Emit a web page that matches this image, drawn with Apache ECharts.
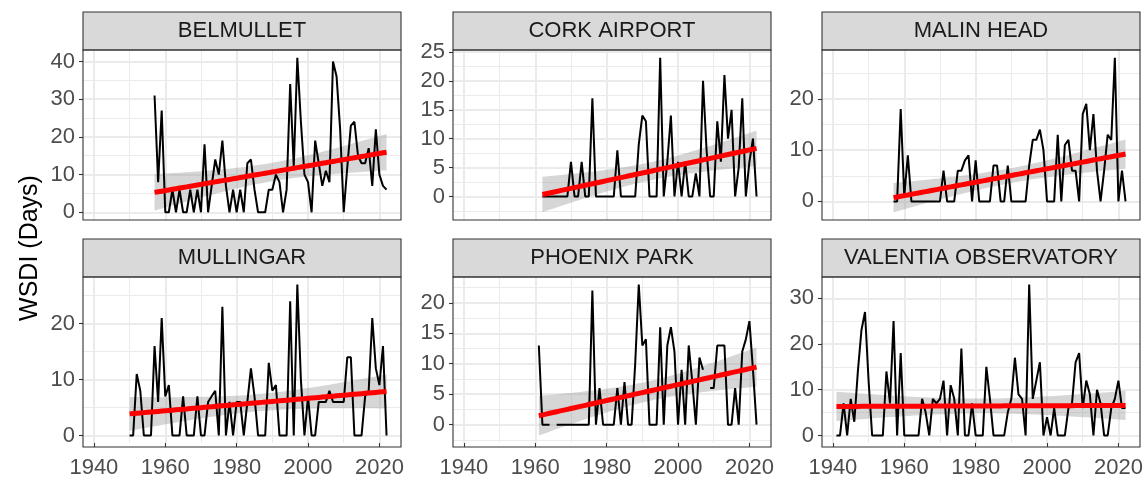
<!DOCTYPE html>
<html>
<head>
<meta charset="utf-8">
<script src="https://cdn.jsdelivr.net/npm/echarts@6/dist/echarts.min.js"></script>
<style>
  html, body { margin: 0; padding: 0; background: #fff; }
  #chart { width: 1146px; height: 479px; }
</style>
</head>
<body>
<div id="chart"></div>
<script>
// facet titles, first year of each record
const stations = ["BELMULLET", "CORK AIRPORT", "MALIN HEAD", "MULLINGAR", "PHOENIX PARK", "VALENTIA OBSERVATORY"];
const startYears = [1957, 1962, 1957, 1950, 1961, 1941];

// annual WSDI (days), one value per year from startYear; null = missing year
const belmullet = [31, 8, 27,
  0, 0, 6, 0, 6, 0, 0, 6, 0, 6,
  0, 18, 0, 7, 14, 10, 19, 7, 0, 6,
  0, 6, 0, 13, 14, 6, 0, 0, 0, 6,
  6, 10, 8, 0, 6, 34, 12, 41, 24, 10,
  8, 0, 19, 13, 7, 11, 8, 40, 36, 22,
  0, 12, 23, 24, 15, 13, 13, 17, 7, 22,
  10, 7, 6];
const cork = [0, 0, 0, 0, 0, 0, 0, 0,
  6, 0, 0, 6, 0, 0, 17, 0, 0, 0,
  0, 0, 0, 8, 0, 0, 0, 0, 0, 9,
  14, 13, 0, 0, 0, 24, 0, 6, 14, 0,
  6, 0, 6, 0, 0, 4, 0, 20, 8, 0,
  0, 13, 6, 21, 10, 15, 0, 5, 17, 0,
  6, 10, 0];
const malin = [0, 0, 18,
  1, 9, 0, 0, 0, 0, 0, 0, 0, 0,
  0, 6, 0, 0, 0, 6, 6, 8, 9, 0,
  8, 0, 0, 0, 0, 7, 7, 0, 0, 7,
  0, 0, 0, 0, 0, 7, 12, 12, 14, 10,
  0, 0, 0, 13, 0, 11, 12, 6, 6, 0,
  17, 19, 10, 17, 6, 0, 6, 13, 12, 28,
  0, 6, 0];
const mullingar = [0, 0, 11, 8, 0, 0, 0, 16, 6, 21,
  7, 9, 0, 0, 0, 7, 0, 0, 0, 7,
  0, 0, 6, 7, 8, 0, 23, 0, 6, 0,
  6, 6, 0, 6, 12, 7, 0, 0, 0, 13,
  8, 9, 0, 0, 0, 24, 0, 27, 10, 0,
  7, 0, 0, 6, 6, 6, 8, 6, 6, 6,
  6, 14, 14, 0, 0, 0, 7, 8, 21, 12,
  9, 16, 0];
const phoenix = [13, 0, 0, 0, null, 0, 0, 0, 0,
  0, 0, 0, 0, 0, 0, 22, 0, 6, 0,
  0, 0, 0, 6, 0, 7, 0, 0, 10, 23,
  13, 14, 0, 0, 0, 16, 0, 13, 16, 12,
  0, 9, 0, 13, 7, 0, 11, 9, null, 6,
  6, 13, 13, 13, 0, 0, 6, 0, 12, 14,
  17, 9, 0];
const valentia = [0, 0, 7, 0, 8, 3, 14, 23, 27,
  12, 0, 0, 0, 0, 14, 7, 25, 0, 18,
  0, 0, 0, 0, 0, 8, 5, 0, 8, 7,
  8, 12, 0, 11, 8, 0, 19, 0, 0, 7,
  0, 0, 0, 15, 8, 0, 0, 0, 0, 5,
  8, 17, 9, 8, 0, 33, 8, 12, 16, 0,
  4, 0, 6, 0, 0, 0, 6, 7, 16, 18,
  6, 12, 9, 0, 10, 7, 0, 0, 6, 8,
  12, 6, 6];

// axis breaks
const xBreaks = [1940, 1960, 1980, 2000, 2020];
const yBreaks = [[0, 10, 20, 30, 40], [0, 5, 10, 15, 20, 25], [0, 10, 20],
  [0, 10, 20], [0, 5, 10, 15, 20], [0, 10, 20, 30]];

const values = [belmullet, cork, malin, mullingar, phoenix, valentia];

const font = "'Liberation Sans', Arial, sans-serif";
const colLeft = [83, 453, 822];
const rowTop = [50, 277];
const panelW = 318, panelH = 170, stripH = 38;

// t quantile (0.975) approximation
const tCrit = (df) => {
  const z = 1.959964;
  return z + (z ** 3 + z) / (4 * df) + (5 * z ** 5 + 16 * z ** 3 + 3 * z) / (96 * df * df);
};

// ordinary least squares with 95% confidence band, like geom_smooth(method = "lm")
const fitLm = (pts) => {
  const n = pts.length;
  let mx = 0, my = 0;
  pts.forEach((p) => { mx += p[0]; my += p[1]; });
  mx /= n; my /= n;
  let sxx = 0, sxy = 0;
  pts.forEach((p) => { sxx += (p[0] - mx) ** 2; sxy += (p[0] - mx) * (p[1] - my); });
  const b = sxy / sxx, a = my - b * mx;
  let sse = 0;
  pts.forEach((p) => { sse += (p[1] - a - b * p[0]) ** 2; });
  const s = Math.sqrt(sse / (n - 2)), t = tCrit(n - 2);
  return (x) => {
    const fit = a + b * x;
    const se = s * Math.sqrt(1 / n + (x - mx) ** 2 / sxx);
    return [fit, fit - t * se, fit + t * se];
  };
};

const minorOf = (brk, lo, hi) => {
  const step = brk[1] - brk[0];
  const out = [];
  for (let v = brk[0] - step / 2; v <= hi; v += step) if (v >= lo) out.push(v);
  return out;
};

const expand = (lo, hi) => { const d = (hi - lo) * 0.05; return [lo - d, hi + d]; };

// shared x range
let yr0 = Infinity, yr1 = -Infinity;
values.forEach((v, i) => {
  yr0 = Math.min(yr0, startYears[i]);
  yr1 = Math.max(yr1, startYears[i] + v.length - 1);
});
const [xMin, xMax] = expand(yr0, yr1);
const xMinor = minorOf(xBreaks, xMin, xMax);

const grids = [], xAxes = [], yAxes = [], series = [], graphics = [];
const gridLine = { color: "#EBEBEB" };
const tickStyle = { color: "#333333", width: 1.1 };

values.forEach((vals, i) => {
  const row = Math.floor(i / 3), col = i % 3;
  const bottom = row === 1;
  const years = vals.map((_, k) => startYears[i] + k);
  const obs = [];
  vals.forEach((v, k) => { if (v !== null) obs.push([years[k], v]); });
  const model = fitLm(obs);
  const band = years.map((x) => [x, ...model(x)]);

  let lo = Infinity, hi = -Infinity;
  obs.forEach((p) => { lo = Math.min(lo, p[1]); hi = Math.max(hi, p[1]); });
  band.forEach((b) => { lo = Math.min(lo, b[2]); hi = Math.max(hi, b[3]); });
  const [yMin, yMax] = expand(lo, hi);

  grids.push({ left: colLeft[col], top: rowTop[row], width: panelW, height: panelH });

  xAxes.push({
    gridIndex: i, type: "value", min: xMin, max: xMax, position: "bottom",
    axisLine: { show: false, onZero: false },
    axisTick: { show: bottom, customValues: xBreaks, length: 4, lineStyle: tickStyle },
    axisLabel: {
      show: bottom, customValues: xBreaks, color: "#4D4D4D", fontSize: 22, fontFamily: font, margin: 14,
      formatter: (v) => String(v),
    },
    splitLine: { show: true, lineStyle: { ...gridLine, width: 2 } },
  });
  xAxes.push({
    gridIndex: i, type: "value", min: xMin, max: xMax, position: "top",
    axisLine: { show: false, onZero: false },
    axisTick: { show: false, customValues: xMinor },
    axisLabel: { show: false },
    splitLine: { show: true, lineStyle: { ...gridLine, width: 1 } },
  });
  yAxes.push({
    gridIndex: i, type: "value", min: yMin, max: yMax, position: "left",
    axisLine: { show: false, onZero: false },
    axisTick: { show: true, customValues: yBreaks[i], length: 4, lineStyle: tickStyle },
    axisLabel: { customValues: yBreaks[i], color: "#4D4D4D", fontSize: 22, fontFamily: font, margin: 8 },
    splitLine: { show: true, lineStyle: { ...gridLine, width: 2 } },
  });
  yAxes.push({
    gridIndex: i, type: "value", min: yMin, max: yMax, position: "right",
    axisLine: { show: false, onZero: false },
    axisTick: { show: false, customValues: minorOf(yBreaks[i], yMin, yMax) },
    axisLabel: { show: false },
    splitLine: { show: true, lineStyle: { ...gridLine, width: 1 } },
  });

  const ax = { xAxisIndex: 2 * i, yAxisIndex: 2 * i };
  series.push({
    ...ax, type: "line", symbol: "none", silent: true,
    data: years.map((x, k) => [x, vals[k] === null ? "-" : vals[k]]),
    lineStyle: { color: "#000000", width: 2 },
  });
  // confidence ribbon as one polygon
  series.push({
    ...ax, type: "custom", silent: true,
    data: band.map((b) => [b[0], b[2], b[3]]),
    encode: { x: 0, y: [1, 2] },
    renderItem: (params, api) => {
      if (params.dataIndex !== 0) return null;
      const upper = band.map((b) => api.coord([b[0], b[3]]));
      const lower = band.map((b) => api.coord([b[0], b[2]])).reverse();
      return {
        type: "polygon",
        shape: { points: upper.concat(lower) },
        style: { fill: "rgba(153,153,153,0.4)" },
      };
    },
  });
  series.push({
    ...ax, type: "line", symbol: "none", silent: true,
    data: band.map((b) => [b[0], b[1]]),
    lineStyle: { color: "#FF0000", width: 5 },
  });

  // strip + panel border
  graphics.push({
    type: "rect", z: 100,
    shape: { x: colLeft[col], y: rowTop[row] - stripH, width: panelW, height: stripH },
    style: { fill: "#D9D9D9", stroke: "#333333", lineWidth: 1.1 },
  });
  graphics.push({
    type: "text", z: 101,
    x: colLeft[col] + panelW / 2, y: rowTop[row] - stripH / 2,
    style: { text: stations[i], fill: "#1A1A1A", font: "22px " + font, align: "center", verticalAlign: "middle" },
  });
  graphics.push({
    type: "rect", z: 100,
    shape: { x: colLeft[col], y: rowTop[row], width: panelW, height: panelH },
    style: { fill: "none", stroke: "#333333", lineWidth: 1.1 },
  });
});

graphics.push({
  type: "text", z: 101, x: 30, y: 248, rotation: Math.PI / 2,
  style: { text: "WSDI (Days)", fill: "#000000", font: "25px " + font, align: "center", verticalAlign: "middle" },
});

const chart = echarts.init(document.getElementById("chart"));
chart.setOption({
  animation: false,
  backgroundColor: "#ffffff",
  grid: grids,
  xAxis: xAxes,
  yAxis: yAxes,
  series: series,
  graphic: graphics,
});
</script>
</body>
</html>
